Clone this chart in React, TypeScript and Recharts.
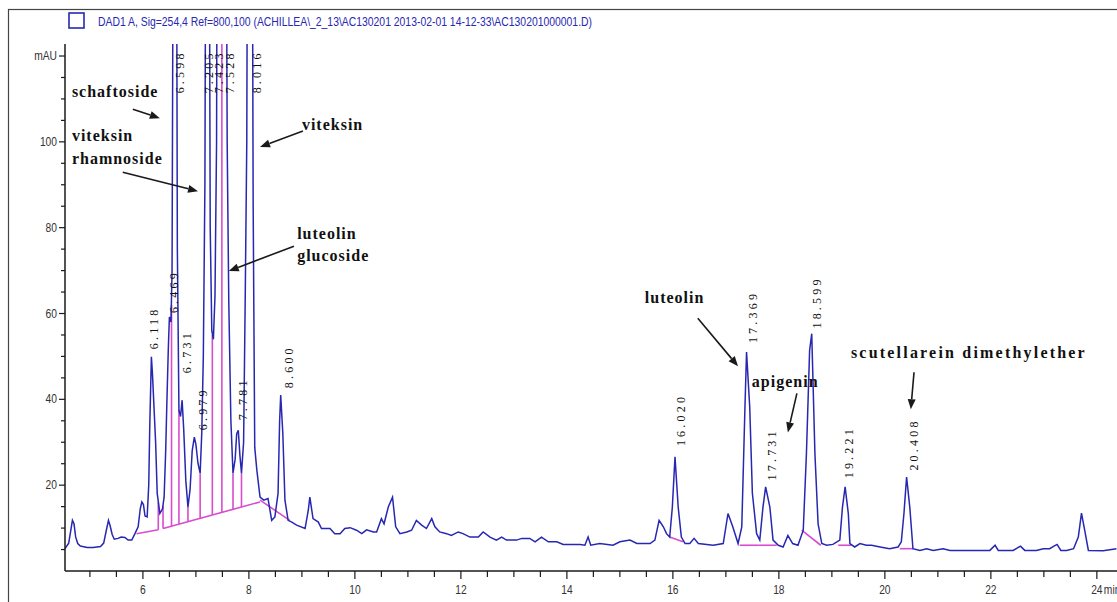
import React from "react";
import { LineChart, Line, XAxis, YAxis, ReferenceDot, ReferenceLine } from "recharts";

/* ---------- TRACE (retention time in min, absorbance in mAU) ---------- */

const earlyTime = [4.53, 4.6, 4.64, 4.67, 4.7, 4.73, 4.77, 4.82, 4.95, 5.06, 5.2, 5.26, 5.31, 5.35, 5.38, 5.42, 5.46, 5.53, 5.59, 5.66, 5.72, 5.79, 5.85, 5.91, 5.95, 5.98, 6.01, 6.04, 6.08];
const earlyAbs = [5.2, 6.5, 9.5, 11.8, 11.0, 8.0, 6.4, 5.8, 5.5, 5.5, 5.7, 6.5, 9.5, 11.8, 10.6, 8.5, 7.4, 7.6, 7.9, 7.8, 7.2, 7.2, 8.7, 10.3, 14.5, 16.1, 15.5, 12.8, 12.6];

const clusterTime = [6.11, 6.13, 6.16, 6.18, 6.21, 6.24, 6.27, 6.32, 6.37, 6.4, 6.43, 6.45, 6.48, 6.5, 6.53, 6.55, 6.57, 6.6, 6.63, 6.65, 6.68, 6.71, 6.74, 6.77, 6.81, 6.85, 6.89, 6.93, 6.97, 7.0, 7.04, 7.08, 7.11, 7.14, 7.17, 7.2, 7.22, 7.24, 7.27, 7.3, 7.33, 7.36, 7.39, 7.42, 7.45, 7.49, 7.53, 7.57, 7.59, 7.62, 7.66, 7.7, 7.74, 7.77, 7.8, 7.83, 7.86, 7.9, 7.93, 7.96, 7.99, 8.02, 8.05, 8.08, 8.11, 8.15, 8.21, 8.28, 8.36, 8.43, 8.49, 8.55, 8.58, 8.6, 8.64, 8.68, 8.74];
const clusterAbs = [20.0, 34.0, 49.9, 46.0, 38.0, 30.0, 18.1, 13.4, 14.5, 17.2, 28.0, 38.2, 52.0, 59.2, 58.0, 70.0, 150, 320, 180, 75, 37.5, 36.0, 39.8, 33.0, 21.0, 14.9, 19.0, 28.0, 31.2, 29.5, 25.0, 22.8, 32.0, 50.0, 90, 220, 300, 210, 80, 56.0, 54.0, 64.0, 100, 260, 190, 140, 240, 170, 100, 63.0, 35.0, 22.8, 26.0, 32.0, 32.8, 27.0, 22.8, 30.0, 63.0, 100, 230, 330, 220, 86, 28.8, 23.5, 17.2, 16.5, 16.9, 11.8, 12.6, 18.1, 35.0, 41.0, 32.1, 16.5, 11.8];

const midTime = [8.81, 8.9, 9.06, 9.12, 9.15, 9.21, 9.31, 9.37, 9.53, 9.62, 9.72, 9.81, 9.91, 10.03, 10.13, 10.22, 10.35, 10.41, 10.5, 10.55, 10.63, 10.71, 10.77, 10.85, 10.98, 11.07, 11.16, 11.26, 11.35, 11.45, 11.51, 11.6, 11.73, 11.82, 11.95, 12.04, 12.17, 12.33, 12.42, 12.55, 12.67, 12.77, 12.86, 13.05, 13.15, 13.3, 13.4, 13.52, 13.65, 13.81, 13.93, 14.25, 14.34, 14.4, 14.45, 14.62, 14.87, 15.0, 15.19, 15.32, 15.57];
const midAbs = [11.4, 10.7, 9.9, 14.1, 17.2, 12.2, 11.4, 9.9, 9.9, 8.7, 8.7, 9.9, 10.1, 9.5, 8.7, 9.6, 9.1, 9.1, 12.2, 11.0, 14.9, 17.2, 10.3, 8.7, 9.1, 9.5, 11.8, 10.7, 9.9, 12.2, 10.3, 9.1, 8.7, 8.3, 9.1, 8.7, 7.9, 7.9, 9.1, 7.9, 7.2, 7.9, 7.2, 7.2, 7.6, 7.6, 6.8, 7.9, 6.8, 6.8, 6.2, 6.2, 6.0, 7.9, 6.0, 6.4, 6.0, 6.8, 7.2, 6.4, 6.4];

const lateTime = [15.66, 15.74, 15.82, 15.88, 15.94, 15.99, 16.04, 16.1, 16.16, 16.23, 16.32, 16.4, 16.48, 16.76, 16.95, 17.04, 17.13, 17.23, 17.3, 17.36, 17.39, 17.45, 17.5, 17.58, 17.64, 17.7, 17.75, 17.83, 17.89, 17.99, 18.08, 18.17, 18.26, 18.36, 18.46, 18.52, 18.58, 18.62, 18.68, 18.74, 18.81, 18.9, 19.02, 19.15, 19.2, 19.25, 19.31, 19.34, 19.43, 19.53, 19.65, 19.75, 19.91, 20.09, 20.25, 20.31, 20.36, 20.41, 20.47, 20.53, 20.66, 20.79, 20.91, 21.1, 21.23, 21.76, 21.98, 22.08, 22.14, 22.42, 22.56, 22.64, 22.86, 22.99, 23.11, 23.19, 23.25, 23.32, 23.43, 23.56, 23.65, 23.71, 23.77, 23.84, 24.12, 24.37];
const lateAbs = [7.2, 11.8, 10.3, 8.7, 7.9, 14.9, 26.6, 14.9, 7.9, 6.4, 6.4, 7.6, 6.4, 6.0, 6.4, 13.4, 10.3, 6.4, 10.3, 38.2, 51.0, 38.2, 18.1, 8.7, 7.2, 14.9, 19.6, 14.9, 7.2, 6.0, 5.6, 8.3, 6.4, 6.0, 9.5, 27.4, 51.4, 55.3, 27.4, 11.0, 6.4, 6.0, 6.2, 7.2, 14.9, 19.6, 13.4, 6.4, 5.6, 6.4, 6.0, 6.0, 5.6, 5.2, 5.6, 6.8, 13.4, 21.9, 14.9, 5.2, 4.8, 5.2, 4.8, 5.2, 4.8, 4.8, 4.8, 6.0, 4.8, 4.8, 5.8, 4.8, 4.8, 5.2, 5.2, 5.8, 6.2, 4.8, 4.8, 5.2, 7.9, 13.5, 9.5, 4.8, 4.7, 5.2];

/* ---------- INTEGRATION BASELINES + DROP LINES ---------- */

const baseFrom = [[5.88, 8.7], [6.38, 9.9], [8.21, 16.5], [15.94, 7.9], [17.26, 6.0], [17.61, 6.0], [18.43, 9.5], [19.12, 6.0], [20.28, 5.2]];
const baseTo = [[6.29, 9.6], [8.21, 16.1], [8.77, 11.8], [16.19, 6.8], [17.61, 6.0], [17.96, 6.0], [18.79, 6.0], [19.37, 6.0], [20.53, 5.2]];

const dropTime = [6.29, 6.38, 6.54, 6.68, 6.85, 7.08, 7.31, 7.49, 7.7, 7.86];
const dropLow = [9.6, 9.9, 10.4, 10.9, 11.5, 12.3, 13.1, 13.7, 14.4, 14.9];
const dropHigh = [16.0, 15.2, 62.0, 37.5, 14.9, 22.8, 55.0, 140, 22.8, 22.8];

/* ---------- RETENTION TIME LABELS ---------- */

const rtText = ["6.118", "6.469", "6.598", "6.731", "6.979", "7.205", "7.423", "7.528", "7.781", "8.016", "8.600", "16.020", "17.369", "17.731", "18.599", "19.221", "20.408"];
const rtLabelTime = [6.21, 6.58, 6.7, 6.83, 7.13, 7.25, 7.44, 7.64, 7.89, 8.15, 8.75, 16.15, 17.51, 17.87, 18.72, 19.32, 20.55];
const rtLabelBase = [51.7, 60.1, 111.3, 46.1, 32.8, 111.3, 111.3, 111.3, 35.1, 111.3, 42.6, 29.1, 53.1, 21.1, 56.5, 21.6, 23.4];

/* ---------- COMPOUND NAMES + ARROWS ---------- */

const nameText = ["schaftoside", "viteksin", "rhamnoside", "viteksin", "luteolin", "glucoside", "luteolin", "apigenin", "scutellarein dimethylether"];
const nameTime = [4.66, 4.66, 4.66, 9.0, 8.91, 8.91, 15.47, 17.49, 19.36];
const nameAbs = [110.4, 100.2, 94.8, 102.8, 77.4, 72.2, 62.5, 42.9, 49.6];

const arrowFrom = [[5.81, 107.6], [5.62, 92.9], [9.02, 102.5], [8.85, 75.7], [16.47, 58.9], [18.34, 41.4], [20.55, 46.3]];
const arrowTo = [[6.32, 105.5], [7.04, 88.5], [8.21, 98.8], [7.62, 69.9], [17.23, 47.7], [18.17, 32.3], [20.49, 37.7]];

/* ---------- AXES ---------- */

const xTicks = [5, 5.5, 6, 6.5, 7, 7.5, 8, 8.5, 9, 9.5, 10, 10.5, 11, 11.5, 12, 12.5, 13, 13.5, 14, 14.5, 15, 15.5, 16, 16.5, 17, 17.5, 18, 18.5, 19, 19.5, 20, 20.5, 21, 21.5, 22, 22.5, 23, 23.5, 24];
const yTicks = [5, 10, 15, 20, 25, 30, 35, 40, 45, 50, 55, 60, 65, 70, 75, 80, 85, 90, 95, 100, 105, 110, 115, 120];

const headerText = "DAD1 A, Sig=254,4 Ref=800,100 (ACHILLEA\\_2_13\\AC130201 2013-02-01 14-12-33\\AC130201000001.D)";

/* ---------- STYLE ---------- */

const BLUE = "#2727b2";
const PINK = "#d84ccf";
const INK = "#1a1a1a";
const AXIS_FONT = "'Liberation Sans Narrow', 'Liberation Sans', Arial, sans-serif";
const SERIF = "'Liberation Serif', 'Times New Roman', serif";

const toPoints = (ts: number[], vs: number[]) => ts.map((t, i) => ({ t, v: vs[i] }));

const trace = [
  ...toPoints(earlyTime, earlyAbs),
  ...toPoints(clusterTime, clusterAbs),
  ...toPoints(midTime, midAbs),
  ...toPoints(lateTime, lateAbs)
];

// narrow axis digits, like the instrument printout
function AxisText({ x, y, anchor, children }: any) {
  return (
    <text
      transform={`translate(${x},${y}) scale(0.82,1)`}
      textAnchor={anchor}
      fontSize={12.5}
      fill="#333"
      fontFamily={AXIS_FONT}
    >
      {children}
    </text>
  );
}

function XTick({ x, y, payload }: any) {
  const v = payload.value;
  const major = Math.abs(v / 2 - Math.round(v / 2)) < 1e-6;
  return (
    <g>
      <line x1={x} x2={x} y1={y} y2={y + (major ? 8 : 6)} stroke={INK} strokeWidth={1.2} />
      {major && (
        <AxisText x={x} y={y + 23} anchor="middle">
          {v}
        </AxisText>
      )}
      {v === 24 && (
        <AxisText x={x + 7} y={y + 23} anchor="start">
          min
        </AxisText>
      )}
    </g>
  );
}

function YTick({ x, y, payload }: any) {
  const v = payload.value;
  const major = v % 20 === 0;
  return (
    <g>
      <line x1={x - (major ? 6 : 4)} x2={x} y1={y} y2={y} stroke={INK} strokeWidth={1.2} />
      {major && (
        <AxisText x={x - 8} y={y + 4} anchor="end">
          {v === 120 ? "mAU" : v}
        </AxisText>
      )}
    </g>
  );
}

const rtShape = (text: string) => (p: any) => (
  <text
    transform={`translate(${p.cx},${p.cy}) rotate(-90)`}
    dominantBaseline="central"
    fontFamily={SERIF}
    fontSize={12}
    fill="#111"
    style={{ letterSpacing: 3.2 }}
  >
    {text}
  </text>
);

const nameShape = (text: string) => (p: any) => (
  <text
    x={p.cx}
    y={p.cy}
    fontFamily={SERIF}
    fontWeight={700}
    fontSize={16}
    fill="#111"
    style={{ letterSpacing: text.length > 15 ? 2.2 : 1 }}
  >
    {text}
  </text>
);

function Arrow(p: any) {
  const { x1, y1, x2, y2 } = p;
  const a = Math.atan2(y2 - y1, x2 - x1);
  const len = 10;
  const hw = 4;
  const bx = x2 - len * Math.cos(a);
  const by = y2 - len * Math.sin(a);
  const pts = `${x2},${y2} ${bx - hw * Math.sin(a)},${by + hw * Math.cos(a)} ${bx + hw * Math.sin(a)},${by - hw * Math.cos(a)}`;
  return (
    <g>
      <line x1={x1} y1={y1} x2={bx} y2={by} stroke={INK} strokeWidth={1.6} />
      <polygon points={pts} fill={INK} />
    </g>
  );
}

export default function App() {
  return (
    <div style={{ position: "absolute", left: 0, top: 0, width: 1117, height: 602, overflow: "hidden", background: "#fff" }}>
      <LineChart width={1117} height={602} margin={{ top: 44, right: 0, left: 0, bottom: 6 }}>
        <XAxis
          type="number"
          dataKey="t"
          domain={[4.53, 24.38]}
          allowDataOverflow
          ticks={xTicks}
          interval={0}
          height={25}
          tickSize={0}
          tickMargin={0}
          tickLine={false}
          axisLine={{ stroke: INK, strokeWidth: 1.5 }}
          tick={<XTick />}
        />
        <YAxis
          type="number"
          domain={[0, 122.8]}
          allowDataOverflow
          ticks={yTicks}
          interval={0}
          width={65}
          tickSize={0}
          tickMargin={0}
          tickLine={false}
          axisLine={{ stroke: INK, strokeWidth: 1.5 }}
          tick={<YTick />}
        />

        {/* integration baselines */}
        {baseFrom.map((f, i) => (
          <Line
            key={"b" + i}
            data={[{ t: f[0], v: f[1] }, { t: baseTo[i][0], v: baseTo[i][1] }]}
            dataKey="v"
            type="linear"
            stroke={PINK}
            strokeWidth={1.6}
            dot={false}
            isAnimationActive={false}
          />
        ))}

        {/* drop lines */}
        {dropTime.map((t, i) => (
          <Line
            key={"d" + i}
            data={[{ t, v: dropLow[i] }, { t, v: dropHigh[i] }]}
            dataKey="v"
            type="linear"
            stroke={PINK}
            strokeWidth={1.6}
            dot={false}
            isAnimationActive={false}
          />
        ))}

        {/* signal */}
        <Line
          data={trace}
          dataKey="v"
          type="linear"
          stroke={BLUE}
          strokeWidth={1.5}
          dot={false}
          isAnimationActive={false}
        />

        {rtText.map((s, i) => (
          <ReferenceDot key={"rt" + i} x={rtLabelTime[i]} y={rtLabelBase[i]} r={0} shape={rtShape(s)} />
        ))}

        {nameText.map((s, i) => (
          <ReferenceDot key={"n" + i} x={nameTime[i]} y={nameAbs[i]} r={0} shape={nameShape(s)} />
        ))}

        {arrowFrom.map((f, i) => (
          <ReferenceLine
            key={"a" + i}
            segment={[{ x: f[0], y: f[1] }, { x: arrowTo[i][0], y: arrowTo[i][1] }]}
            shape={Arrow}
          />
        ))}
      </LineChart>

      {/* frame + header */}
      <svg width={1117} height={602} style={{ position: "absolute", left: 0, top: 0, pointerEvents: "none" }}>
        <rect x={8.5} y={9.5} width={1200} height={700} fill="none" stroke="#444" strokeWidth={1.2} />
        <rect x={69} y={13} width={15} height={15} fill="#fff" stroke={BLUE} strokeWidth={1.6} />
        <text
          x={98}
          y={26}
          fontSize={12}
          fill={BLUE}
          fontFamily={AXIS_FONT}
          textLength={494}
          lengthAdjust="spacingAndGlyphs"
        >
          {headerText}
        </text>
      </svg>
    </div>
  );
}
